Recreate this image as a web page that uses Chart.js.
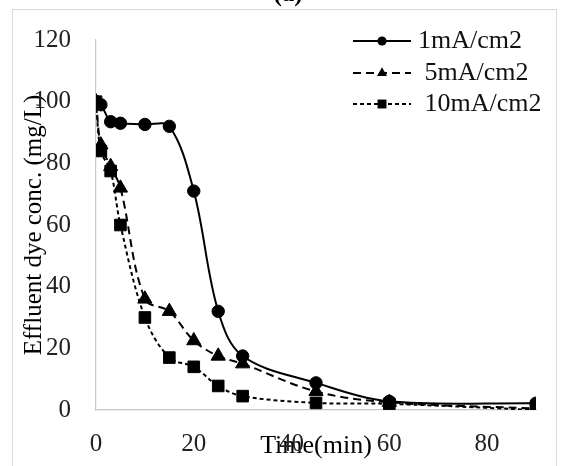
<!DOCTYPE html>
<html>
<head>
<meta charset="utf-8">
<script src="https://cdn.jsdelivr.net/npm/chart.js@4.4.1/dist/chart.umd.min.js"></script>
<style>
  html, body { margin: 0; padding: 0; background: #fff; }
  #wrap { position: relative; width: 563px; height: 466px; overflow: hidden; }
  #frame { position: absolute; left: 12px; top: 9px; width: 545px; height: 470px; border: 1.5px solid #d9d9d9; box-sizing: border-box; }
  canvas { position: absolute; left: 0; top: 0; }
</style>
</head>
<body>
<div id="wrap">
  <div id="frame"></div>
  <canvas id="c" width="563" height="466"></canvas>
</div>
<script>
// ---- data ----
const times = [0, 1, 3, 5, 10, 15, 20, 25, 30, 45, 60, 90];
const series1mA = [100, 99, 93.5, 93, 92.6, 92, 71, 32, 17.5, 8.8, 2.8, 2.2];
const series5mA = [100, 86, 79, 72, 36, 32, 22.5, 17.5, 15, 6, 2.5, 0.5];
const series10mA = [100, 84, 77.5, 60, 30, 17, 14, 7.8, 4.5, 2.3, 2, 0];
const seriesNames = ['1mA/cm2', ' 5mA/cm2', ' 10mA/cm2'];
const xTicks = [0, 20, 40, 60, 80];
const yTicks = [0, 20, 40, 60, 80, 100, 120];
const chartTitle = '(a)';
const xTitle = 'Time(min)';
const yTitle = 'Effluent dye conc. (mg/L)';

const FONT = '"Liberation Serif", "Times New Roman", serif';

function pts(ys) { return times.map((t, i) => ({ x: t, y: ys[i] })); }

const legendStyle = [
  { shape: 'circle', r: 4.6 },
  { shape: 'triangle', r: 5.8 },
  { shape: 'rect', r: 6.3 }
];

function drawShape(ctx, shape, x, y, r) {
  ctx.beginPath();
  if (shape === 'circle') {
    ctx.arc(x, y, r, 0, Math.PI * 2);
  } else if (shape === 'triangle') {
    ctx.moveTo(x, y - r);
    ctx.lineTo(x + r * Math.sin(2 * Math.PI / 3), y - r * Math.cos(2 * Math.PI / 3));
    ctx.lineTo(x - r * Math.sin(2 * Math.PI / 3), y - r * Math.cos(2 * Math.PI / 3));
    ctx.closePath();
  } else {
    const s = Math.SQRT1_2 * r;
    ctx.rect(x - s, y - s, 2 * s, 2 * s);
  }
  ctx.fill();
}

const legendPlugin = {
  id: 'customLegend',
  afterDraw(chart) {
    const ctx = chart.ctx;
    const x0 = 353, x1 = 411, mx = 382, tx = 418;
    const rows = [41, 73, 104];
    ctx.save();
    chart.data.datasets.forEach((ds, i) => {
      const y = rows[i];
      ctx.strokeStyle = '#000';
      ctx.lineWidth = 2;
      ctx.setLineDash(ds.borderDash || []);
      ctx.beginPath();
      ctx.moveTo(x0, y);
      ctx.lineTo(x1, y);
      ctx.stroke();
      ctx.setLineDash([]);
      ctx.fillStyle = '#000';
      drawShape(ctx, legendStyle[i].shape, mx, y, legendStyle[i].r);
      ctx.fillStyle = '#111';
      ctx.font = '26px ' + FONT;
      ctx.textBaseline = 'middle';
      ctx.textAlign = 'left';
      ctx.fillText(ds.label, tx, y);
    });
    // partially clipped panel label
    ctx.fillStyle = '#000';
    ctx.font = 'bold 25px ' + FONT;
    ctx.textAlign = 'center';
    ctx.textBaseline = 'alphabetic';
    ctx.fillText(chartTitle, 288, 1);
    ctx.restore();
  }
};

const common = {
  borderColor: '#000',
  backgroundColor: '#000',
  pointBackgroundColor: '#000',
  pointBorderColor: '#000',
  pointBorderWidth: 1,
  borderWidth: 2,
  tension: 0.35,
  fill: false
};

new Chart(document.getElementById('c'), {
  type: 'line',
  data: {
    datasets: [
      Object.assign({}, common, { label: seriesNames[0], data: pts(series1mA), pointStyle: 'circle', pointRadius: 6.2, borderDash: [] }),
      Object.assign({}, common, { label: seriesNames[1], data: pts(series5mA), pointStyle: 'triangle', pointRadius: 8.2, borderDash: [8, 5] }),
      Object.assign({}, common, { label: seriesNames[2], data: pts(series10mA), pointStyle: 'rect', pointRadius: 8.2, borderDash: [4, 3] })
    ]
  },
  options: {
    responsive: false,
    animation: false,
    devicePixelRatio: 1,
    layout: { padding: { left: 0, right: 27, top: 27, bottom: 0 } },
    plugins: {
      legend: { display: false },
      tooltip: { enabled: false },
      title: { display: false }
    },
    scales: {
      x: {
        type: 'linear',
        min: 0,
        max: 90,
        afterBuildTicks(scale) { scale.ticks = xTicks.map(v => ({ value: v })); },
        afterFit(scale) { scale.height = 56; },
        grid: { display: false, drawTicks: false },
        border: { display: true, color: '#c8c8c8', width: 1.2 },
        ticks: { padding: 19, color: '#222', font: { family: FONT, size: 25 } },
        title: { display: true, text: xTitle, color: '#000', padding: { top: 0, bottom: 4 }, font: { family: FONT, size: 26 } }
      },
      y: {
        type: 'linear',
        min: 0,
        max: 120,
        afterBuildTicks(scale) { scale.ticks = yTicks.map(v => ({ value: v })); },
        afterFit(scale) { scale.width = 96; },
        grid: { display: false, drawTicks: false },
        border: { display: true, color: '#c8c8c8', width: 1.2 },
        ticks: { padding: 25, color: '#222', font: { family: FONT, size: 25 } },
        title: { display: true, text: yTitle, color: '#000', padding: { top: 19, bottom: 0 }, font: { family: FONT, size: 25 } }
      }
    }
  },
  plugins: [legendPlugin]
});
</script>
</body>
</html>
